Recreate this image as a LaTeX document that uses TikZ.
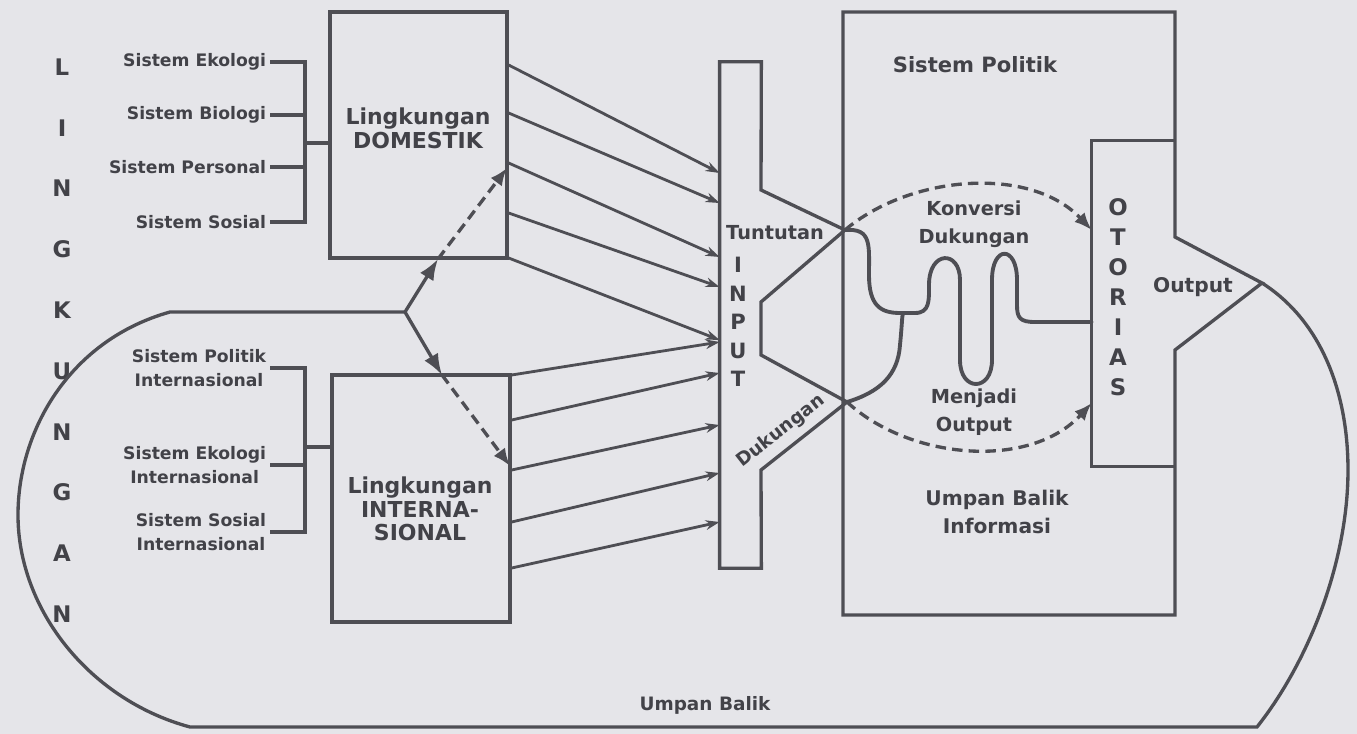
\documentclass[tikz,border=0pt]{standalone}
\usepackage{fontspec}
\setmainfont{DejaVu Sans}
\usetikzlibrary{arrows.meta}
\definecolor{ink}{RGB}{78,78,84}
\definecolor{textink}{RGB}{66,66,72}
\definecolor{paper}{RGB}{229,229,233}
\tikzset{
	inkline/.style={draw=ink, line width=1.9pt},
	feed/.style={draw=ink, line width=1.6pt, -{Stealth[length=8pt,width=5.5pt]}},
	fork/.style={draw=ink, line width=1.9pt, -{Latex[length=12pt,width=9pt]}},
	dasharrow/.style={draw=ink, line width=1.9pt, dash pattern=on 6pt off 3.5pt, -{Latex[length=10pt,width=8pt]}},
	wiggle/.style={draw=ink, line width=2.2pt, line cap=round, line join=round},
	sidelabel/.style={text=textink, font=\bfseries\fontsize{9.8}{14}\selectfont, align=center, inner sep=2pt, anchor=east},
	boxlabel/.style={text=textink, font=\bfseries\fontsize{12.5}{13.5}\selectfont, align=center},
	letter/.style={text=textink, font=\bfseries\fontsize{13}{15}\selectfont, inner sep=0pt},
	textlabel/.style={text=textink, font=\bfseries\fontsize{11}{16}\selectfont, align=center, inner sep=0pt}
}
\begin{document}
\begin{tikzpicture}[x=0.02cm, y=-0.02cm]
			\fill[paper] (0,0) rectangle (1357,734);
			\useasboundingbox (0,0) rectangle (1357,734);
			\foreach \c [count=\i from 0] in {L,I,N,G,K,U,N,G,A,N}
				\node[letter] (lk\i) at (62,67+60.8*\i) {\c};
			\node[inkline, minimum width=3.54cm, minimum height=4.92cm] (dom) at (418.5,135) {};
			\node[inkline, minimum width=3.56cm, minimum height=4.94cm] (intl) at (421,498.5) {};
			\node[boxlabel] (domlbl) at (418,128) {Lingkungan\\DOMESTIK};
			\node[boxlabel] (intllbl) at (420,509) {Lingkungan\\INTERNA-\\SIONAL};
			\node[sidelabel] (eko) at (270,62) {Sistem Ekologi};
			\node[sidelabel] (bio) at (270,115) {Sistem Biologi};
			\node[sidelabel] (pers) at (270,167) {Sistem Personal};
			\node[sidelabel] (sos) at (270,222) {Sistem Sosial};
			\coordinate (dbrk) at (305,143);
			\foreach \n in {eko,bio,pers,sos}
				\draw[inkline] (\n.east) -| (dbrk);
			\draw[inkline] (dbrk) -- (dom.west |- dbrk);
			\node[sidelabel] (ipol) at (270,368) {Sistem Politik\\Internasional};
			\node[sidelabel] (ieko) at (270,465) {Sistem Ekologi\\Internasional};
			\node[sidelabel] (isos) at (270,532) {Sistem Sosial\\Internasional};
			\coordinate (ibrk) at (305,447);
			\foreach \n in {ipol,ieko,isos}
				\draw[inkline] (\n.east) -| (ibrk);
			\draw[inkline] (ibrk) -- (intl.west |- ibrk);
			\node[minimum width=0.82cm, minimum height=10.12cm, inner sep=0pt] (inp) at (740.5,315) {};
			\coordinate (tt) at (845,230);
			\coordinate (dk) at (847,402);
			\draw[inkline] (inp.north east) -- (inp.north west) -- (inp.south west) -- (inp.south east) -- (761,470) -- (dk) -- (761,355) -- (761,302) -- (tt) -- (761,190) -- cycle;
			\foreach \c [count=\i from 0] in {I,N,P,U,T}
				\node[letter, font=\bfseries\fontsize{12}{14}\selectfont] (in\i) at (738,265+28.5*\i) {\c};
			\node[textlabel] (tuntutan) at (775,233) {Tuntutan};
			\node[textlabel, rotate=38, font=\bfseries\fontsize{10.5}{12}\selectfont] (dukungan) at (781,431) {Dukungan};
			\foreach \a/\b in {65/173,113/203,163/257,213/287,258/340}
				\draw[feed] (dom.east |- 0,\a) -- (inp.west |- 0,\b);
			\foreach \a/\b in {375/342,420/373,470/425,522/473,568/522}
				\draw[feed] (intl.east |- 0,\a) -- (inp.west |- 0,\b);
			\coordinate (out) at (1262,283);
			\draw[inkline] (1175,237) -- (1175,12) -- (843,12) -- (843,615) -- (1175,615) -- (1175,350) -- (out) -- cycle;
			\node[minimum width=1.66cm, minimum height=6.5cm, inner sep=0pt] (oto) at (1133.5,303.5) {};
			\draw[inkline] (oto.north east) -- (oto.north west) -- (oto.south west) -- (oto.south east);
			\foreach \c [count=\i from 0] in {O,T,O,R,I,A,S}
				\node[letter] (ot\i) at (1118,207+30*\i) {\c};
			\node[textlabel, font=\bfseries\fontsize{12}{14}\selectfont] (politik) at (975,65) {Sistem Politik};
			\node[textlabel] (konversi) at (974,224) {Konversi\\Dukungan};
			\node[textlabel] (menjadi) at (974,412) {Menjadi\\Output};
			\node[textlabel, font=\bfseries\fontsize{11.5}{16}\selectfont] (umpaninfo) at (997,512) {Umpan Balik\\Informasi};
			\node[textlabel, font=\bfseries\fontsize{11.5}{14}\selectfont] (output) at (1193,287) {Output};
			\node[textlabel, font=\bfseries\fontsize{10.5}{12}\selectfont] (umpan) at (705,705) {Umpan Balik};
			\draw[dasharrow] (tt) .. controls (910,175) and (1030,165) .. (oto.west |- 0,230);
			\draw[dasharrow] (dk) .. controls (910,460) and (1030,470) .. (oto.west |- 0,403);
			\draw[wiggle] (tt) .. controls (872,228) and (869,245) .. (869,275) .. controls (869,305) and (880,313) .. (900,313) -- (915,313) .. controls (930,313) and (929,300) .. (929,285) .. controls (929,250) and (960,250) .. (960,280) -- (960,360) .. controls (960,392) and (992,392) .. (992,360) -- (992,280) .. controls (992,245) and (1017,245) .. (1017,280) -- (1017,305) .. controls (1017,318) and (1020,322) .. (1035,322) -- (oto.west |- 0,322);
			\draw[wiggle] (dk) .. controls (880,392) and (898,375) .. (900,345) .. controls (902,325) and (902,316) .. (903,313);
			\coordinate (fork) at (405,312);
			\draw[inkline] (fork) -- (170,312) .. controls (70,340) and (18,430) .. (18,515) .. controls (18,610) and (90,700) .. (190,727) -- (1257,727) .. controls (1310,660) and (1348,560) .. (1348,470) .. controls (1348,390) and (1320,320) .. (out);
			\coordinate (dbot) at (438,259);
			\coordinate (dside) at (507,168);
			\coordinate (itop) at (442,375);
			\coordinate (iside) at (510,466);
			\draw[fork] (fork) -- (dbot);
			\draw[dasharrow] (dbot) -- (dside);
			\draw[fork] (fork) -- (itop);
			\draw[dasharrow] (itop) -- (iside);
\end{tikzpicture}
\end{document}
